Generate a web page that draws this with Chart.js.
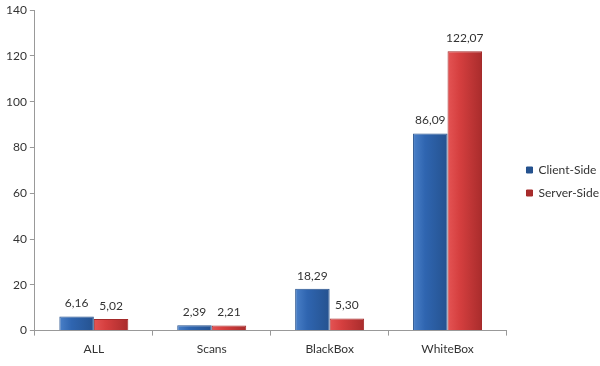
<!DOCTYPE html>
<html>
<head>
<meta charset="utf-8">
<script src="https://cdn.jsdelivr.net/npm/chart.js@4"></script>
<style>
html,body{margin:0;padding:0;background:#fff;}
#wrap{width:600px;height:366px;position:relative;}
</style>
</head>
<body>
<div id="wrap"><canvas id="c" width="600" height="366"></canvas></div>
<script>
const categories = ["ALL", "Scans", "BlackBox", "WhiteBox"];
const clientSide = [6.16, 2.39, 18.29, 86.09];
const serverSide = [5.02, 2.21, 5.30, 122.07];
const seriesNames = ["Client-Side", "Server-Side"];
const yTicks = [0, 20, 40, 60, 80, 100, 120, 140];

const CAT_PCT = 0.585;
const FONT = "Lato, 'Open Sans', sans-serif";

function barGradient(ctx, light, mid, dark) {
  const chart = ctx.chart;
  const xs = chart.scales.x;
  if (!xs || xs.width === undefined) return mid;
  const cw = xs.width / categories.length;
  const bw = cw * CAT_PCT / 2;
  const center = xs.getPixelForValue(ctx.dataIndex);
  const left = ctx.datasetIndex === 0 ? center - bw : center;
  if (!isFinite(left)) return mid;
  const g = chart.ctx.createLinearGradient(left, 0, left + bw, 0);
  g.addColorStop(0, light);
  g.addColorStop(0.35, mid);
  g.addColorStop(1, dark);
  return g;
}

const valueLabels = {
  id: 'valueLabels',
  afterDatasetsDraw(chart) {
    const c = chart.ctx;
    c.save();
    c.font = "12px " + FONT;
    c.fillStyle = "#333";
    c.textAlign = "center";
    c.textBaseline = "bottom";
    chart.data.datasets.forEach((ds, di) => {
      const meta = chart.getDatasetMeta(di);
      meta.data.forEach((el, i) => {
        const txt = ds.data[i].toFixed(2).replace('.', ',');
        c.fillText(txt, el.x, el.y - 7);
      });
    });
    c.restore();
  }
};

// shift legend items a bit to the right, leaving a gap after the plot
const legendGap = {
  id: 'legendGap',
  afterLayout(chart) {
    if (chart.legend) chart.legend.left += 9;
  }
};

new Chart(document.getElementById('c'), {
  type: 'bar',
  data: {
    labels: categories,
    datasets: [
      {
        label: seriesNames[0],
        data: clientSide,
        backgroundColor: ctx => barGradient(ctx, '#4a80c8', '#2f65b0', '#25528f'),
        borderColor: '#24508c',
        borderWidth: 1,
        borderSkipped: 'bottom'
      },
      {
        label: seriesNames[1],
        data: serverSide,
        backgroundColor: ctx => barGradient(ctx, '#e45454', '#d53f3f', '#a92c2c'),
        borderColor: '#a42a2a',
        borderWidth: 1,
        borderSkipped: 'bottom'
      }
    ]
  },
  options: {
    responsive: false,
    animation: false,
    layout: { padding: { top: 1, right: 0, left: 3, bottom: 4 } },
    datasets: { bar: { categoryPercentage: CAT_PCT, barPercentage: 1.0 } },
    plugins: {
      legend: {
        position: 'right',
        align: 'center',
        labels: {
          boxWidth: 6,
          boxHeight: 6,
          padding: 11,
          color: '#333',
          font: { family: FONT, size: 12 }
        }
      },
      tooltip: { enabled: false }
    },
    scales: {
      x: {
        grid: { display: true, drawOnChartArea: false, offset: true, tickLength: 5, color: '#999' },
        border: { color: '#999' },
        ticks: { color: '#333', font: { family: FONT, size: 12 }, padding: 6 }
      },
      y: {
        min: 0,
        max: 140,
        afterBuildTicks: s => { s.ticks = yTicks.map(v => ({ value: v })); },
        grid: { display: true, drawOnChartArea: false, tickLength: 5, color: '#999' },
        border: { color: '#999' },
        ticks: { color: '#333', font: { family: FONT, size: 12 }, padding: 3 }
      }
    }
  },
  plugins: [valueLabels, legendGap]
});
</script>
</body>
</html>
